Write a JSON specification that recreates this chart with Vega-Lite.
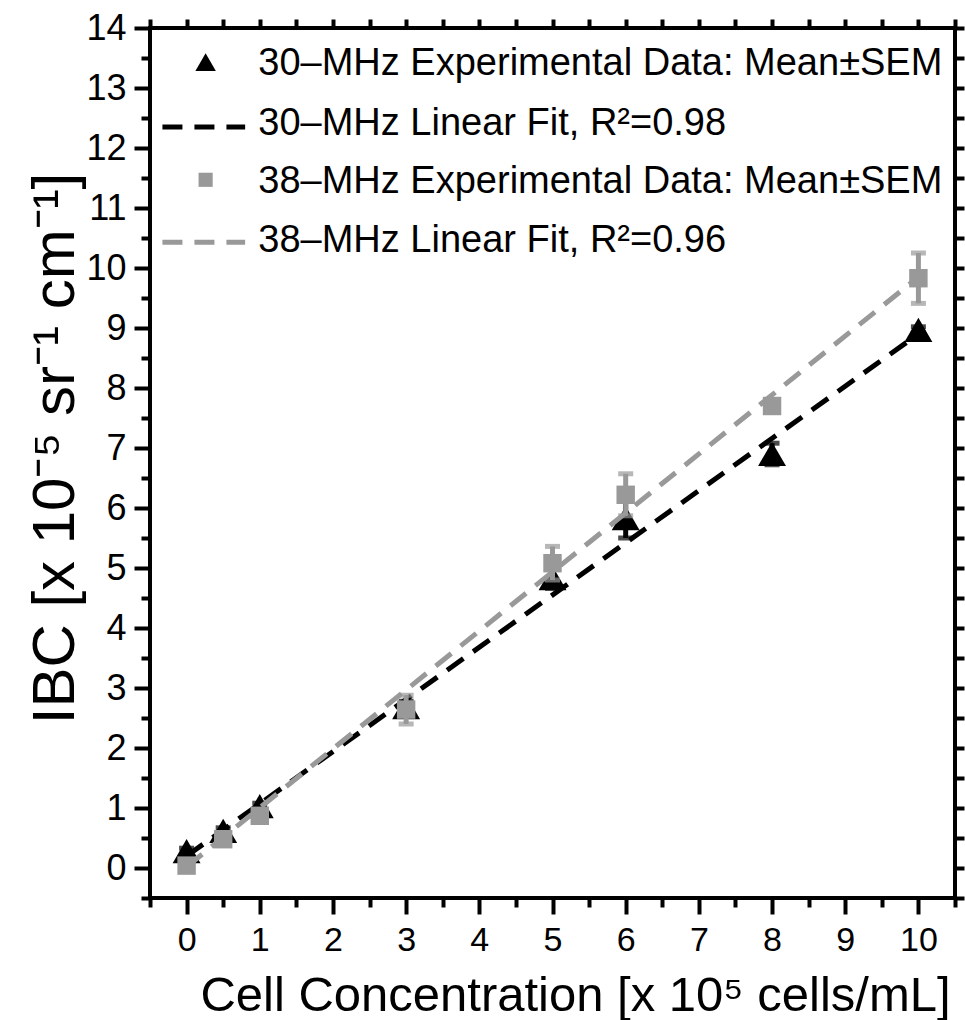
{
  "$schema": "https://vega.github.io/schema/vega-lite/v6.json",
  "width": 805,
  "height": 870,
  "autosize": "none",
  "padding": {"left": 150, "top": 28, "right": 10, "bottom": 122},
  "background": "white",
  "config": {
    "view": {"stroke": "black", "strokeWidth": 4},
    "font": "Liberation Sans, Arial, sans-serif",
    "axis": {"domain": false, "grid": false, "tickColor": "black", "tickWidth": 4, "labelColor": "black", "titleColor": "black", "titleFontWeight": "normal"}
  },
  "datasets": {
    "points": [
      {"series": "30", "x": 0, "y": 0.28, "lo": 0.23, "hi": 0.33},
      {"series": "30", "x": 0.5, "y": 0.62, "lo": 0.57, "hi": 0.67},
      {"series": "30", "x": 1, "y": 1.03, "lo": 0.98, "hi": 1.08},
      {"series": "30", "x": 3, "y": 2.68, "lo": 2.58, "hi": 2.78},
      {"series": "30", "x": 5, "y": 4.83, "lo": 4.66, "hi": 5.0},
      {"series": "30", "x": 6, "y": 5.83, "lo": 5.5, "hi": 6.16},
      {"series": "30", "x": 8, "y": 6.9, "lo": 6.72, "hi": 7.08},
      {"series": "30", "x": 10, "y": 8.97, "lo": 8.92, "hi": 9.02},
      {"series": "38", "x": 0, "y": 0.04, "lo": -0.01, "hi": 0.09},
      {"series": "38", "x": 0.5, "y": 0.48, "lo": 0.43, "hi": 0.53},
      {"series": "38", "x": 1, "y": 0.87, "lo": 0.82, "hi": 0.92},
      {"series": "38", "x": 3, "y": 2.64, "lo": 2.4, "hi": 2.88},
      {"series": "38", "x": 5, "y": 5.08, "lo": 4.8, "hi": 5.36},
      {"series": "38", "x": 6, "y": 6.22, "lo": 5.87, "hi": 6.57},
      {"series": "38", "x": 8, "y": 7.7, "lo": 7.65, "hi": 7.75},
      {"series": "38", "x": 10, "y": 9.83, "lo": 9.41, "hi": 10.25}
    ],
    "fits": [
      {"series": "30", "x": 0, "y": 0.2},
      {"series": "30", "x": 10, "y": 8.9},
      {"series": "38", "x": 0, "y": 0.02},
      {"series": "38", "x": 10, "y": 9.85}
    ],
    "legendText": [
      {"x": 0.98, "y": 13.4, "label": "30–MHz Experimental Data: Mean±SEM"},
      {"x": 0.98, "y": 12.4, "label": "30–MHz Linear Fit, R²=0.98"},
      {"x": 0.98, "y": 11.43, "label": "38–MHz Experimental Data: Mean±SEM"},
      {"x": 0.98, "y": 10.45, "label": "38–MHz Linear Fit, R²=0.96"}
    ],
    "legendLines": [
      {"series": "30", "x": -0.33, "y": 12.35},
      {"series": "30", "x": 0.8, "y": 12.35},
      {"series": "38", "x": -0.33, "y": 10.43},
      {"series": "38", "x": 0.8, "y": 10.43}
    ],
    "legendSymbols": [
      {"series": "30", "x": 0.26, "y": 13.43},
      {"series": "38", "x": 0.26, "y": 11.47}
    ]
  },
  "resolve": {"axis": {"x": "independent", "y": "independent"}},
  "layer": [
    {
      "data": {"name": "points"},
      "transform": [{"filter": "datum.series == '30'"}],
      "mark": {"type": "rule", "color": "black", "strokeWidth": 5},
      "encoding": {
        "x": {"field": "x", "type": "quantitative", "scale": {"domain": [-0.5, 10.5], "nice": false, "zero": false},
          "axis": {"orient": "bottom", "values": [0, 1, 2, 3, 4, 5, 6, 7, 8, 9, 10], "tickSize": 16, "labelFontSize": 34, "labelPadding": 9,
            "title": "Cell Concentration [x 10⁵ cells/mL]", "titleFontSize": 49, "titleX": 425, "titleY": 112, "titleBaseline": "alphabetic", "titleAlign": "center"}},
        "y": {"field": "lo", "type": "quantitative", "scale": {"domain": [-0.5, 14], "nice": false, "zero": false},
          "axis": {"orient": "left", "values": [0, 1, 2, 3, 4, 5, 6, 7, 8, 9, 10, 11, 12, 13, 14], "tickSize": 16, "labelFontSize": 36, "labelPadding": 8,
            "title": "IBC [x 10⁻⁵ sr⁻¹ cm⁻¹]", "titleFontSize": 60, "titleX": -95, "titleY": 420, "titleAngle": 270, "titleBaseline": "middle", "titleAlign": "center"}},
        "y2": {"field": "hi"}
      }
    },
    {
      "data": {"name": "points"},
      "transform": [{"filter": "datum.series == '30'"}],
      "mark": {"type": "tick", "orient": "horizontal", "color": "black", "size": 15, "thickness": 5},
      "encoding": {
        "x": {"field": "x", "type": "quantitative", "scale": {"domain": [-0.5, 10.5], "nice": false, "zero": false},
          "axis": {"orient": "bottom", "values": [-0.5, 0.5, 1.5, 2.5, 3.5, 4.5, 5.5, 6.5, 7.5, 8.5, 9.5, 10.5], "tickSize": 9, "labels": false, "title": null}},
        "y": {"field": "lo", "type": "quantitative", "scale": {"domain": [-0.5, 14], "nice": false, "zero": false},
          "axis": {"orient": "left", "values": [-0.5, 0.5, 1.5, 2.5, 3.5, 4.5, 5.5, 6.5, 7.5, 8.5, 9.5, 10.5, 11.5, 12.5, 13.5], "tickSize": 9, "labels": false, "title": null}}
      }
    },
    {
      "data": {"name": "points"},
      "transform": [{"filter": "datum.series == '30'"}],
      "mark": {"type": "tick", "orient": "horizontal", "color": "black", "size": 15, "thickness": 5},
      "encoding": {
        "x": {"field": "x", "type": "quantitative", "scale": {"domain": [-0.5, 10.5], "nice": false, "zero": false},
          "axis": {"orient": "top", "values": [-0.5, 0, 0.5, 1, 1.5, 2, 2.5, 3, 3.5, 4, 4.5, 5, 5.5, 6, 6.5, 7, 7.5, 8, 8.5, 9, 9.5, 10, 10.5], "tickSize": 9, "labels": false, "title": null}},
        "y": {"field": "hi", "type": "quantitative", "scale": {"domain": [-0.5, 14], "nice": false, "zero": false},
          "axis": {"orient": "right", "values": [-0.5, 0, 0.5, 1, 1.5, 2, 2.5, 3, 3.5, 4, 4.5, 5, 5.5, 6, 6.5, 7, 7.5, 8, 8.5, 9, 9.5, 10, 10.5, 11, 11.5, 12, 12.5, 13, 13.5, 14], "tickSize": 9, "labels": false, "title": null}}
      }
    },
    {
      "data": {"name": "points"},
      "transform": [{"filter": "datum.series == '30'"}],
      "mark": {"type": "point", "shape": "triangle-up", "filled": true, "color": "black", "opacity": 1, "size": 780},
      "encoding": {
        "x": {"field": "x", "type": "quantitative", "scale": {"domain": [-0.5, 10.5], "nice": false, "zero": false}, "axis": null},
        "y": {"field": "y", "type": "quantitative", "scale": {"domain": [-0.5, 14], "nice": false, "zero": false}, "axis": null}
      }
    },
    {
      "data": {"name": "fits"},
      "transform": [{"filter": "datum.series == '30'"}],
      "mark": {"type": "line", "color": "black", "strokeWidth": 5, "strokeDash": [20, 12]},
      "encoding": {
        "x": {"field": "x", "type": "quantitative", "scale": {"domain": [-0.5, 10.5], "nice": false, "zero": false}, "axis": null},
        "y": {"field": "y", "type": "quantitative", "scale": {"domain": [-0.5, 14], "nice": false, "zero": false}, "axis": null}
      }
    },
    {
      "data": {"name": "points"},
      "transform": [{"filter": "datum.series == '38'"}],
      "mark": {"type": "rule", "color": "#999999", "strokeWidth": 5},
      "encoding": {
        "x": {"field": "x", "type": "quantitative", "scale": {"domain": [-0.5, 10.5], "nice": false, "zero": false}, "axis": null},
        "y": {"field": "lo", "type": "quantitative", "scale": {"domain": [-0.5, 14], "nice": false, "zero": false}, "axis": null},
        "y2": {"field": "hi"}
      }
    },
    {
      "data": {"name": "points"},
      "transform": [{"filter": "datum.series == '38'"}],
      "mark": {"type": "tick", "orient": "horizontal", "color": "#999999", "size": 15, "thickness": 5},
      "encoding": {
        "x": {"field": "x", "type": "quantitative", "scale": {"domain": [-0.5, 10.5], "nice": false, "zero": false}, "axis": null},
        "y": {"field": "lo", "type": "quantitative", "scale": {"domain": [-0.5, 14], "nice": false, "zero": false}, "axis": null}
      }
    },
    {
      "data": {"name": "points"},
      "transform": [{"filter": "datum.series == '38'"}],
      "mark": {"type": "tick", "orient": "horizontal", "color": "#999999", "size": 15, "thickness": 5},
      "encoding": {
        "x": {"field": "x", "type": "quantitative", "scale": {"domain": [-0.5, 10.5], "nice": false, "zero": false}, "axis": null},
        "y": {"field": "hi", "type": "quantitative", "scale": {"domain": [-0.5, 14], "nice": false, "zero": false}, "axis": null}
      }
    },
    {
      "data": {"name": "points"},
      "transform": [{"filter": "datum.series == '38'"}],
      "mark": {"type": "point", "shape": "square", "filled": true, "color": "#999999", "opacity": 1, "size": 340},
      "encoding": {
        "x": {"field": "x", "type": "quantitative", "scale": {"domain": [-0.5, 10.5], "nice": false, "zero": false}, "axis": null},
        "y": {"field": "y", "type": "quantitative", "scale": {"domain": [-0.5, 14], "nice": false, "zero": false}, "axis": null}
      }
    },
    {
      "data": {"name": "fits"},
      "transform": [{"filter": "datum.series == '38'"}],
      "mark": {"type": "line", "color": "#999999", "strokeWidth": 5, "strokeDash": [20, 12]},
      "encoding": {
        "x": {"field": "x", "type": "quantitative", "scale": {"domain": [-0.5, 10.5], "nice": false, "zero": false}, "axis": null},
        "y": {"field": "y", "type": "quantitative", "scale": {"domain": [-0.5, 14], "nice": false, "zero": false}, "axis": null}
      }
    },
    {
      "data": {"name": "legendLines"},
      "mark": {"type": "line", "strokeWidth": 5, "strokeDash": [20, 12]},
      "encoding": {
        "x": {"field": "x", "type": "quantitative", "scale": {"domain": [-0.5, 10.5], "nice": false, "zero": false}, "axis": null},
        "y": {"field": "y", "type": "quantitative", "scale": {"domain": [-0.5, 14], "nice": false, "zero": false}, "axis": null},
        "detail": {"field": "series"},
        "color": {"field": "series", "type": "nominal", "scale": {"domain": ["30", "38"], "range": ["black", "#999999"]}, "legend": null}
      }
    },
    {
      "data": {"name": "legendSymbols"},
      "mark": {"type": "point", "filled": true, "opacity": 1},
      "encoding": {
        "x": {"field": "x", "type": "quantitative", "scale": {"domain": [-0.5, 10.5], "nice": false, "zero": false}, "axis": null},
        "y": {"field": "y", "type": "quantitative", "scale": {"domain": [-0.5, 14], "nice": false, "zero": false}, "axis": null},
        "shape": {"field": "series", "type": "nominal", "scale": {"domain": ["30", "38"], "range": ["triangle-up", "square"]}, "legend": null},
        "size": {"field": "series", "type": "nominal", "scale": {"domain": ["30", "38"], "range": [420, 200]}, "legend": null},
        "color": {"field": "series", "type": "nominal", "scale": {"domain": ["30", "38"], "range": ["black", "#999999"]}, "legend": null}
      }
    },
    {
      "data": {"name": "legendText"},
      "mark": {"type": "text", "align": "left", "baseline": "middle", "fontSize": 38, "color": "black"},
      "encoding": {
        "x": {"field": "x", "type": "quantitative", "scale": {"domain": [-0.5, 10.5], "nice": false, "zero": false}, "axis": null},
        "y": {"field": "y", "type": "quantitative", "scale": {"domain": [-0.5, 14], "nice": false, "zero": false}, "axis": null},
        "text": {"field": "label"}
      }
    }
  ]
}
